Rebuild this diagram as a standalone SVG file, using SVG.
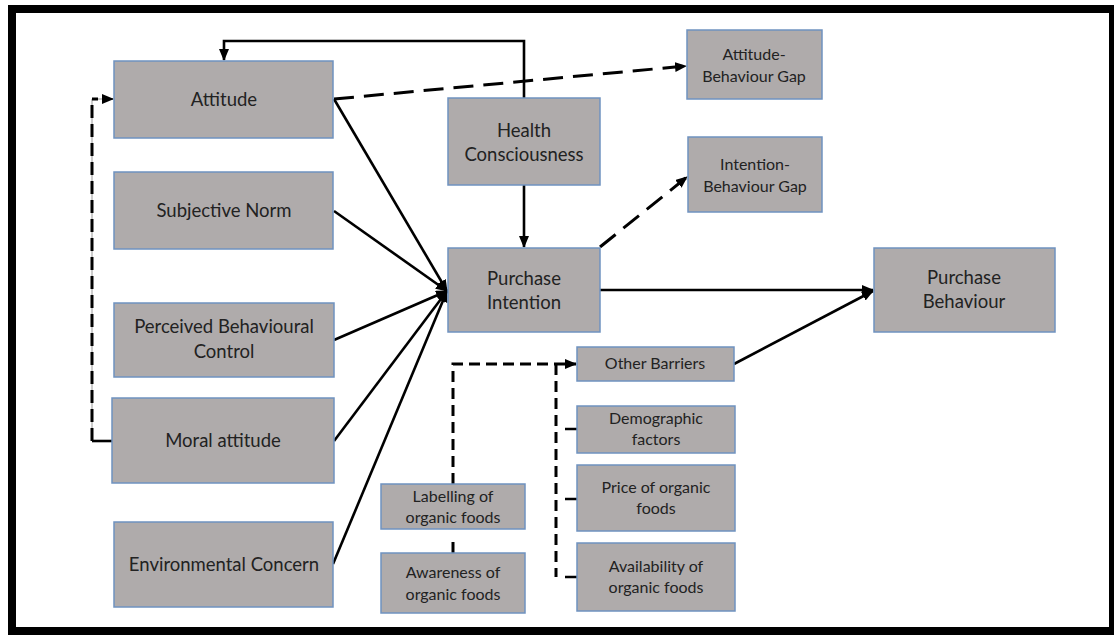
<svg xmlns="http://www.w3.org/2000/svg" width="1114" height="635" viewBox="0 0 1114 635">
  <style>
    .box { fill: #AFABAB; stroke: #6F92C0; stroke-width: 1.5; }
    .lbl { font-family: Lato, "Open Sans", "Liberation Sans", sans-serif; fill: #222; text-anchor: middle; }
    .lg { font-size: 18.5px; }
    .sm { font-size: 16px; }
    .solid { fill: none; stroke: #000; stroke-width: 2.6; }
    .dash { fill: none; stroke: #000; stroke-width: 3; stroke-dasharray: 20 10; }
    .dashs { fill: none; stroke: #000; stroke-width: 3; stroke-dasharray: 11 6; }
    .thin { fill: none; stroke: #9a9a9a; stroke-width: 1; }
  </style>
  <defs>
    <marker id="arr" markerUnits="userSpaceOnUse" markerWidth="12" markerHeight="10" refX="11" refY="5" orient="auto">
      <path d="M0,0 L12,5 L0,10 Z" fill="#000"/>
    </marker>
  </defs>

  <rect x="0" y="0" width="1114" height="635" fill="#fff"/>
  <!-- outer frame -->
  <rect x="12" y="9" width="1101" height="622" fill="none" stroke="#000" stroke-width="8"/>

  <g id="connectors">
    <!-- Health Consciousness loop back to Attitude -->
    <path class="solid" d="M524,98 V41 H224 V60" marker-end="url(#arr)"/>
    <!-- Health Consciousness to Purchase Intention -->
    <path class="solid" d="M524,185 V247" marker-end="url(#arr)"/>
    <!-- antecedents to Purchase Intention -->
    <path class="solid" d="M334,99 L447,291" marker-end="url(#arr)"/>
    <path class="solid" d="M334,211 L447,291" marker-end="url(#arr)"/>
    <path class="solid" d="M334,340 L447,291" marker-end="url(#arr)"/>
    <path class="solid" d="M334,441 L447,291" marker-end="url(#arr)"/>
    <path class="solid" d="M333,564 L447,291" marker-end="url(#arr)"/>
    <!-- Purchase Intention to Purchase Behaviour -->
    <path class="solid" d="M600,290 L873,290" marker-end="url(#arr)"/>
    <!-- Other Barriers to Purchase Behaviour -->
    <path class="solid" d="M734,364 L873,291" marker-end="url(#arr)"/>
    <!-- gaps -->
    <path class="dash" d="M334,99 L686,66" marker-end="url(#arr)"/>
    <path class="dash" d="M600,247 L687,177" marker-end="url(#arr)"/>
    <!-- Moral attitude feedback to Attitude -->
    <path class="thin" d="M92,441 V99 H104"/>
    <path class="solid" d="M112,441 H92"/>
    <path fill="none" stroke="#000" stroke-width="3" stroke-dasharray="13 6" d="M92,441 V99 H98"/>
    <path fill="none" stroke="#000" stroke-width="1" d="M104,99 H113" marker-end="url(#arr)"/>
    <!-- labelling / awareness to Other Barriers -->
    <path class="dashs" d="M453,484 V364 H576" marker-end="url(#arr)"/>
    <path class="dashs" d="M453,542 V554"/>
    <!-- barrier factors -->
    <path class="dashs" d="M556,364 V577"/>
    <path class="solid" d="M565,429 H577 M565,499 H577 M565,577 H577"/>
  </g>

  <g id="attitude">
    <rect class="box" x="114" y="61" width="219" height="77"/>
    <text class="lbl lg" x="224" y="106">Attitude</text>
  </g>
  <g id="subjective-norm">
    <rect class="box" x="114" y="172" width="219" height="77"/>
    <text class="lbl lg" x="224" y="217">Subjective Norm</text>
  </g>
  <g id="perceived-behavioural-control">
    <rect class="box" x="114" y="303" width="220" height="74"/>
    <text class="lbl lg" x="224" y="333">Perceived Behavioural</text>
    <text class="lbl lg" x="224" y="358">Control</text>
  </g>
  <g id="moral-attitude">
    <rect class="box" x="112" y="398" width="222" height="85"/>
    <text class="lbl lg" x="223" y="447">Moral attitude</text>
  </g>
  <g id="environmental-concern">
    <rect class="box" x="114" y="522" width="219" height="85"/>
    <text class="lbl lg" x="224" y="571">Environmental Concern</text>
  </g>
  <g id="health-consciousness">
    <rect class="box" x="448" y="98" width="152" height="87"/>
    <text class="lbl lg" x="524" y="137">Health</text>
    <text class="lbl lg" x="524" y="161">Consciousness</text>
  </g>
  <g id="purchase-intention">
    <rect class="box" x="448" y="248" width="152" height="84"/>
    <text class="lbl lg" x="524" y="285">Purchase</text>
    <text class="lbl lg" x="524" y="309">Intention</text>
  </g>
  <g id="attitude-behaviour-gap">
    <rect class="box" x="687" y="30" width="135" height="69"/>
    <text class="lbl sm" x="754" y="60">Attitude-</text>
    <text class="lbl sm" x="754" y="82">Behaviour Gap</text>
  </g>
  <g id="intention-behaviour-gap">
    <rect class="box" x="688" y="137" width="134" height="75"/>
    <text class="lbl sm" x="755" y="170">Intention-</text>
    <text class="lbl sm" x="755" y="192">Behaviour Gap</text>
  </g>
  <g id="purchase-behaviour">
    <rect class="box" x="874" y="248" width="181" height="84"/>
    <text class="lbl lg" x="964" y="284">Purchase</text>
    <text class="lbl lg" x="964" y="308">Behaviour</text>
  </g>
  <g id="other-barriers">
    <rect class="box" x="577" y="347" width="157" height="34"/>
    <text class="lbl sm" x="655" y="369">Other Barriers</text>
  </g>
  <g id="demographic-factors">
    <rect class="box" x="577" y="406" width="158" height="47"/>
    <text class="lbl sm" x="656" y="424">Demographic</text>
    <text class="lbl sm" x="656" y="445">factors</text>
  </g>
  <g id="price-of-organic-foods">
    <rect class="box" x="577" y="465" width="158" height="66"/>
    <text class="lbl sm" x="656" y="493">Price of organic</text>
    <text class="lbl sm" x="656" y="514">foods</text>
  </g>
  <g id="availability-of-organic-foods">
    <rect class="box" x="577" y="543" width="158" height="68"/>
    <text class="lbl sm" x="656" y="572">Availability of</text>
    <text class="lbl sm" x="656" y="593">organic foods</text>
  </g>
  <g id="labelling-of-organic-foods">
    <rect class="box" x="381" y="484" width="144" height="45"/>
    <text class="lbl sm" x="453" y="502">Labelling of</text>
    <text class="lbl sm" x="453" y="523">organic foods</text>
  </g>
  <g id="awareness-of-organic-foods">
    <rect class="box" x="381" y="553" width="144" height="60"/>
    <text class="lbl sm" x="453" y="578">Awareness of</text>
    <text class="lbl sm" x="453" y="600">organic foods</text>
  </g>
</svg>
